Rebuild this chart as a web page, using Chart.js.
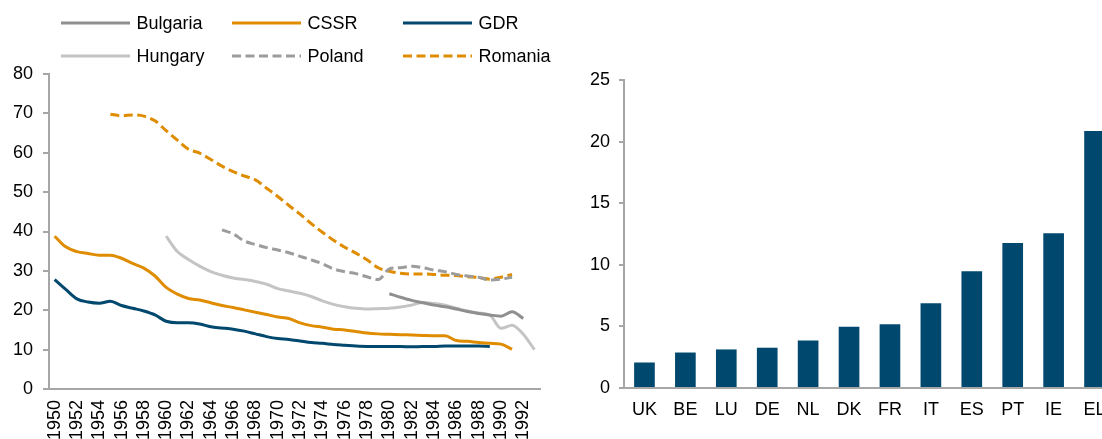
<!DOCTYPE html>
<html>
<head>
<meta charset="utf-8">
<script src="https://cdn.jsdelivr.net/npm/chart.js@4.4.1/dist/chart.umd.min.js"></script>
<style>
html,body{margin:0;padding:0;width:1102px;height:439px;overflow:hidden;background:#fff;}
#wrapL{position:absolute;left:0;top:0;width:560px;height:480px;}
#wrapR{position:absolute;left:570px;top:0;width:560px;height:480px;}
.leg{position:absolute;height:20px;font-family:"Liberation Sans",Arial,sans-serif;font-size:18px;color:#000;white-space:nowrap;}
.leg svg{position:absolute;left:0;top:0;}
.leg span{position:absolute;top:0;line-height:20px;}
</style>
</head>
<body>
<div id="wrapL"><canvas id="cL" width="560" height="480"></canvas></div>
<div id="wrapR"><canvas id="cR" width="560" height="480"></canvas></div>
<div id="legend"></div>
<script>
// ---------- Left panel data ----------
const years = ['1950','1951','1952','1953','1954','1955','1956','1957','1958','1959',
  '1960','1961','1962','1963','1964','1965','1966','1967','1968','1969',
  '1970','1971','1972','1973','1974','1975','1976','1977','1978','1979',
  '1980','1981','1982','1983','1984','1985','1986','1987','1988','1989',
  '1990','1991','1992','1993'];

const bulgaria = [null,null,null,null,null,null,null,null,null,null,
  null,null,null,null,null,null,null,null,null,null,
  null,null,null,null,null,null,null,null,null,null,
  24.2,23.3,22.5,21.9,21.3,20.9,20.3,19.7,19.2,18.8,
  18.5,19.6,17.9,null];

const cssr = [38.8,36.1,34.9,34.4,34.0,34.0,33.2,31.9,30.7,28.7,
  25.8,24.1,23.0,22.6,21.9,21.2,20.7,20.1,19.5,18.9,
  18.3,17.9,16.8,16.1,15.7,15.2,15.0,14.6,14.2,14.0,
  13.9,13.8,13.7,13.6,13.5,13.5,12.3,12.1,11.8,11.6,
  11.4,10.1,null,null];

const gdr = [27.8,25.3,22.9,22.1,21.8,22.3,21.2,20.5,19.8,18.8,
  17.2,16.8,16.8,16.5,15.8,15.5,15.2,14.7,14.0,13.3,
  12.8,12.6,12.2,11.8,11.6,11.3,11.1,10.9,10.8,10.8,
  10.8,10.8,10.7,10.8,10.8,10.9,10.9,10.9,10.9,10.8,
  null,null,null,null];

const hungary = [null,null,null,null,null,null,null,null,null,null,
  38.8,34.9,32.9,31.2,29.8,28.9,28.2,27.8,27.3,26.6,
  25.5,24.9,24.3,23.5,22.4,21.5,20.9,20.5,20.3,20.4,
  20.5,20.8,21.3,22.0,21.7,21.3,20.5,19.8,19.3,18.8,
  15.4,16.2,13.9,10.0];

const poland = [null,null,null,null,null,null,null,null,null,null,
  null,null,null,null,null,40.4,39.4,37.6,36.7,35.9,
  35.3,34.6,33.7,32.8,31.8,30.5,29.8,29.3,28.5,27.8,
  30.5,30.8,31.2,30.8,30.2,29.8,29.1,28.7,28.4,27.7,
  27.9,28.4,null,null];

const romania = [null,null,null,null,null,69.8,69.4,69.6,69.3,68.1,
  65.6,63.2,60.9,59.9,58.3,56.6,55.2,54.1,53.1,51.0,
  48.9,46.6,44.4,42.0,39.8,37.8,36.0,34.5,32.8,30.8,
  29.9,29.4,29.2,29.2,29.1,28.9,28.8,28.5,28.3,27.9,
  28.4,29.1,null,null];

const leftTicks = [0,10,20,30,40,50,60,70,80];

// ---------- Right panel data ----------
const countries = ['UK','BE','LU','DE','NL','DK','FR','IT','ES','PT','IE','EL'];
const shares = [2.07,2.88,3.13,3.27,3.86,4.98,5.17,6.87,9.48,11.76,12.56,20.86];
const rightTicks = [0,5,10,15,20,25];

// ---------- Styles ----------
const FONT = {family: "'Liberation Sans', Arial, sans-serif", size: 18};
const AXIS = '#A6A6A6';
const ORANGE = '#DF8C00';
const BLUE = '#00486E';
const DASH = [9, 4.5];

const series = [
  {label: 'Bulgaria', data: bulgaria, color: '#8F8F8F', dash: []},
  {label: 'CSSR',     data: cssr,     color: ORANGE,    dash: []},
  {label: 'GDR',      data: gdr,      color: BLUE,      dash: []},
  {label: 'Hungary',  data: hungary,  color: '#C4C4C4', dash: []},
  {label: 'Poland',   data: poland,   color: '#9C9C9C', dash: DASH},
  {label: 'Romania',  data: romania,  color: ORANGE,    dash: DASH}
];

// HTML legend (2 rows x 3 columns)
const legCols = [61, 232, 403];
const legRows = [23, 56];
const legEl = document.getElementById('legend');
series.forEach((s, i) => {
  const d = document.createElement('div');
  d.className = 'leg';
  d.style.left = legCols[i % 3] + 'px';
  d.style.top = (legRows[Math.floor(i / 3)] - 10) + 'px';
  d.style.width = '170px';
  const svgNS = 'http://www.w3.org/2000/svg';
  const svg = document.createElementNS(svgNS, 'svg');
  svg.setAttribute('width', '70'); svg.setAttribute('height', '20');
  const ln = document.createElementNS(svgNS, 'line');
  ln.setAttribute('x1', '0'); ln.setAttribute('x2', '69');
  ln.setAttribute('y1', '10'); ln.setAttribute('y2', '10');
  ln.setAttribute('stroke', s.color); ln.setAttribute('stroke-width', '3');
  if (s.dash.length) ln.setAttribute('stroke-dasharray', s.dash.join(' '));
  svg.appendChild(ln);
  d.appendChild(svg);
  const sp = document.createElement('span');
  sp.style.left = '75.5px';
  sp.textContent = s.label;
  d.appendChild(sp);
  legEl.appendChild(d);
});

const zeroPad = s => { s.paddingLeft = 0; s.paddingRight = 0; s.paddingTop = 0; s.paddingBottom = 0; };

new Chart(document.getElementById('cL'), {
  type: 'line',
  data: {
    labels: years,
    datasets: series.map(s => ({
      label: s.label, data: s.data, borderColor: s.color, backgroundColor: s.color,
      borderDash: s.dash, borderWidth: 3, pointRadius: 0, fill: false,
      cubicInterpolationMode: 'monotone', spanGaps: false
    }))
  },
  options: {
    responsive: false, animation: false,
    layout: {padding: {top: 74, right: 20, bottom: 0, left: 0}},
    plugins: {legend: {display: false}, tooltip: {enabled: false}},
    scales: {
      x: {
        offset: true,
        grid: {display: true, drawOnChartArea: false, drawTicks: false},
        border: {display: true, color: AXIS, width: 2},
        ticks: {autoSkip: false, maxRotation: 90, minRotation: 90, padding: 11, color: '#000', font: FONT,
          callback: (v, i) => (i % 2 === 0 ? years[i] : '')},
        afterFit: s => { s.height = 91; zeroPad(s); }
      },
      y: {
        min: 0, max: 80,
        afterBuildTicks: s => { s.ticks = leftTicks.map(v => ({value: v})); },
        grid: {display: true, drawOnChartArea: false, drawTicks: true, tickLength: 6, color: AXIS, lineWidth: 2},
        border: {display: true, color: AXIS, width: 2},
        ticks: {padding: 10, color: '#000', font: FONT},
        afterFit: s => { s.width = 49; zeroPad(s); }
      }
    }
  }
});

new Chart(document.getElementById('cR'), {
  type: 'bar',
  data: {
    labels: countries,
    datasets: [{data: shares, backgroundColor: BLUE, borderWidth: 0, categoryPercentage: 1, barPercentage: 0.505}]
  },
  options: {
    responsive: false, animation: false,
    layout: {padding: {top: 80, right: 15, bottom: 0, left: 0}},
    plugins: {legend: {display: false}, tooltip: {enabled: false}},
    scales: {
      x: {
        grid: {display: true, drawOnChartArea: false, drawTicks: false},
        border: {display: true, color: AXIS, width: 2},
        ticks: {autoSkip: false, maxRotation: 0, minRotation: 0, padding: 11, color: '#000', font: FONT},
        afterFit: s => { s.height = 92; zeroPad(s); }
      },
      y: {
        min: 0, max: 25,
        afterBuildTicks: s => { s.ticks = rightTicks.map(v => ({value: v})); },
        grid: {display: true, drawOnChartArea: false, drawTicks: true, tickLength: 5, color: AXIS, lineWidth: 2},
        border: {display: true, color: AXIS, width: 2},
        ticks: {padding: 9, color: '#000', font: FONT},
        afterFit: s => { s.width = 54; zeroPad(s); }
      }
    }
  }
});
</script>
</body>
</html>
